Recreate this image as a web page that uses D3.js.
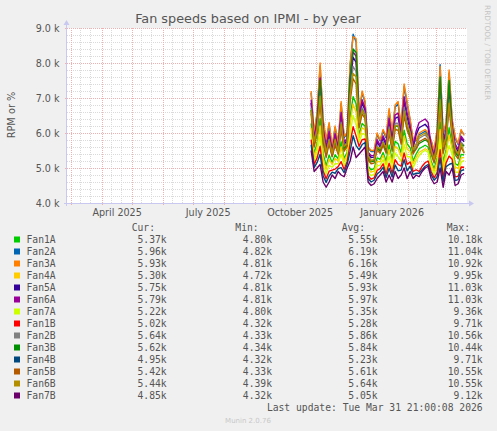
<!DOCTYPE html>
<html>
<head>
<meta charset="utf-8">
<script src="https://d3js.org/d3.v7.min.js"></script>
<style>
  body { margin: 0; background: #f0f0f0; }
  svg { display: block; }
  text { font-family: "DejaVu Sans", sans-serif; fill: #555; }
  .mono { font-family: "DejaVu Sans Mono", monospace; font-size: 9.7px; fill: #555; }
</style>
</head>
<body>
<svg id="chart" width="497" height="431"></svg>
<script>
// first sample and sampling step (days)
var firstDay = new Date(2025, 9, 27);
var stepDays = 3;

var fanNames = ["Fan1A","Fan2A","Fan3A","Fan4A","Fan5A","Fan6A","Fan7A",
                "Fan1B","Fan2B","Fan3B","Fan4B","Fan5B","Fan6B","Fan7B"];
var fanColors = ["#00cc00","#0066b3","#ff8000","#ffcc00","#330099","#990099","#ccff00",
                 "#ff0000","#808080","#008f00","#00487d","#b35a00","#b38f00","#6b006b"];

// RPM in thousands
var fan1A = [6.27,5.40,5.72,6.41,5.41,5.06,5.37,5.16,5.38,5.26,5.75,5.27,5.45,6.46,7.04,6.83,5.94,6.27,6.19,5.05,4.95,4.98,5.29,5.25,5.44,5.19,5.66,5.23,5.76,5.69,5.43,6.08,5.69,5.58,5.20,5.40,5.55,5.60,5.65,5.60,5.20,4.98,5.28,6.31,5.15,5.53,6.15,5.63,5.13,5.07,5.39,5.37];
var fan2A = [7.15,5.97,6.55,7.91,6.35,5.76,6.25,5.58,6.16,5.68,6.84,5.87,5.97,7.92,8.82,8.60,6.56,7.15,6.86,5.57,5.47,5.47,5.96,5.77,6.06,5.86,6.64,5.96,6.74,6.83,6.16,7.33,6.83,6.36,5.77,5.78,5.95,6.00,6.05,5.95,5.77,5.47,6.06,7.95,5.95,6.26,7.71,6.36,5.86,5.67,6.06,5.96];
var fan3A = [7.20,6.00,6.60,8.00,6.40,5.80,6.30,5.60,6.20,5.70,6.90,5.90,6.00,8.00,8.75,8.70,6.60,7.20,6.90,5.60,5.50,5.50,6.00,5.80,6.10,5.90,6.70,6.00,6.80,6.90,6.20,7.40,6.90,6.40,5.80,5.80,6.00,6.05,6.10,6.00,5.80,5.50,6.10,7.90,6.00,6.30,7.80,6.40,5.90,5.70,6.10,5.93];
var fan4A = [6.15,5.32,5.61,6.20,5.28,4.96,5.25,5.10,5.27,5.20,5.60,5.19,5.38,6.26,6.82,6.59,5.86,6.15,6.09,4.98,4.88,4.91,5.19,5.18,5.36,5.09,5.52,5.13,5.62,5.54,5.33,5.91,5.54,5.47,5.12,5.30,5.45,5.50,5.55,5.50,5.12,4.91,5.17,6.10,5.04,5.43,5.94,5.53,5.03,4.99,5.29,5.30];
var fan5A = [6.86,5.78,6.28,7.42,6.04,5.53,5.96,5.44,5.90,5.54,6.48,5.67,5.80,7.44,8.16,8.02,6.36,6.86,6.64,5.40,5.30,5.31,5.74,5.60,5.86,5.64,6.32,5.72,6.42,6.46,5.92,6.92,6.46,6.10,5.58,5.95,6.15,6.20,6.25,6.15,5.58,5.31,5.80,7.32,5.69,6.02,7.20,6.12,5.62,5.47,5.84,5.75];
var fan6A = [6.95,5.84,6.36,7.57,6.13,5.60,6.05,5.48,5.98,5.58,6.59,5.73,5.85,7.58,8.32,8.19,6.42,6.95,6.71,5.45,5.35,5.36,5.81,5.65,5.92,5.71,6.42,5.79,6.52,6.57,5.99,7.04,6.57,6.18,5.64,6.05,6.30,6.35,6.40,6.30,5.64,5.36,5.88,7.47,5.77,6.09,7.35,6.19,5.69,5.53,5.91,5.79];
var fan7A = [5.98,5.21,5.45,5.91,5.10,4.83,5.08,5.02,5.12,5.12,5.39,5.07,5.28,5.98,6.50,6.25,5.74,5.98,5.96,4.88,4.78,4.82,5.06,5.08,5.24,4.96,5.33,4.99,5.43,5.32,5.19,5.67,5.32,5.32,5.01,5.20,5.35,5.45,5.50,5.45,5.01,4.82,5.02,5.81,4.88,5.29,5.64,5.39,4.89,4.87,5.16,5.22];
var fan1B = [5.81,5.10,5.29,5.62,4.92,4.69,4.91,4.94,4.97,5.04,5.18,4.96,5.18,5.70,6.18,5.91,5.62,5.81,5.83,4.78,4.68,4.72,4.93,4.98,5.12,4.83,5.14,4.85,5.24,5.10,5.05,5.43,5.10,5.17,4.90,4.95,4.90,5.05,5.15,5.20,4.90,4.72,4.87,5.52,4.73,5.15,5.34,5.25,4.75,4.76,5.03,5.02];
var fan2B = [6.72,5.69,6.15,7.19,5.90,5.42,5.82,5.38,5.78,5.48,6.31,5.58,5.72,7.22,7.90,7.75,6.26,6.72,6.54,5.32,5.22,5.23,5.64,5.52,5.76,5.54,6.17,5.61,6.27,6.28,5.81,6.73,6.28,5.98,5.49,5.65,5.85,5.90,5.95,5.85,5.49,5.23,5.68,7.09,5.57,5.91,6.96,6.01,5.51,5.38,5.74,5.64];
var fan3B = [6.66,5.65,6.09,7.50,5.82,5.37,5.76,5.34,5.72,5.44,6.23,5.53,5.68,7.60,8.40,8.30,6.22,6.66,6.48,5.28,5.18,5.20,5.58,5.48,5.72,5.48,6.09,5.55,6.19,6.20,5.75,6.63,6.20,5.92,5.45,5.55,5.70,5.75,5.80,5.75,5.45,5.20,5.62,7.60,5.50,5.85,7.50,5.95,5.45,5.33,5.68,5.62];
var fan4B = [5.67,5.01,5.16,5.39,4.78,4.59,4.77,4.88,4.85,4.98,5.01,4.87,5.10,5.48,5.92,5.64,5.52,5.67,5.73,4.70,4.60,4.65,4.83,4.90,5.02,4.73,4.99,4.74,5.09,4.92,4.94,5.24,4.92,5.05,4.81,4.85,4.85,4.95,5.05,5.10,4.81,4.65,4.75,5.29,4.61,5.04,5.10,5.14,4.64,4.67,4.93,4.95];
var fan5B = [6.55,5.60,6.00,6.85,5.75,5.30,5.70,5.32,5.65,5.40,6.10,5.48,5.62,6.90,7.55,7.40,6.15,6.55,6.40,5.22,5.12,5.14,5.52,5.42,5.65,5.42,6.00,5.48,6.10,6.08,5.68,6.50,6.08,5.85,5.40,5.55,5.75,5.80,5.85,5.78,5.40,5.14,5.55,6.80,5.42,5.78,6.70,5.88,5.38,5.26,5.60,5.42];
var fan6B = [6.65,5.75,6.10,7.05,5.95,5.45,5.78,5.42,5.82,5.45,6.25,5.62,5.68,7.10,7.70,7.60,6.30,6.65,6.50,5.35,5.20,5.25,5.60,5.55,5.72,5.58,6.10,5.65,6.20,6.22,5.85,6.62,6.22,6.02,5.52,5.70,5.90,5.95,6.00,5.90,5.52,5.25,5.65,6.95,5.60,5.88,6.85,6.05,5.55,5.40,5.70,5.44];
var fan7B = [5.50,4.90,5.00,5.10,4.60,4.45,4.60,4.80,4.70,4.90,4.80,4.75,5.00,5.20,5.60,5.30,5.40,5.50,5.60,4.60,4.50,4.55,4.70,4.80,4.90,4.60,4.80,4.60,4.90,4.70,4.80,5.00,4.70,4.90,4.70,4.80,4.75,4.90,5.00,5.05,4.70,4.55,4.60,5.00,4.45,4.90,4.80,5.00,4.50,4.55,4.80,4.85];

// legend figures (from the reference)
var curVals = ["5.37k","5.96k","5.93k","5.30k","5.75k","5.79k","5.22k","5.02k","5.64k","5.62k","4.95k","5.42k","5.44k","4.85k"];
var minVals = ["4.80k","4.82k","4.81k","4.72k","4.81k","4.81k","4.80k","4.32k","4.33k","4.34k","4.32k","4.33k","4.39k","4.32k"];
var avgVals = ["5.55k","6.19k","6.16k","5.49k","5.93k","5.97k","5.35k","5.28k","5.86k","5.84k","5.23k","5.61k","5.64k","5.05k"];
var maxVals = ["10.18k","11.04k","10.92k","9.95k","11.03k","11.03k","9.36k","9.71k","10.56k","10.44k","9.71k","10.55k","10.55k","9.12k"];

var yTicks = [4, 5, 6, 7, 8, 9];
var xLabels = [[new Date(2025,3,16),"April 2025"],[new Date(2025,6,16),"July 2025"],
               [new Date(2025,9,16),"October 2025"],[new Date(2026,0,16),"January 2026"]];

var series = [fan1A,fan2A,fan3A,fan4A,fan5A,fan6A,fan7A,fan1B,fan2B,fan3B,fan4B,fan5B,fan6B,fan7B];

var svg = d3.select("#chart");
var L = 67, R = 467, T = 28, B = 203;
var tEnd = new Date(2026, 2, 31, 21, 0);
var tStart = d3.timeDay.offset(tEnd, -400);
var x = d3.scaleTime().domain([tStart, tEnd]).range([L, R]);
var y = d3.scaleLinear().domain([4, 9]).range([B, T]);

svg.append("rect").attr("x", L).attr("y", T).attr("width", R - L).attr("height", B - T).attr("fill", "#fff");

var grid = svg.append("g").attr("shape-rendering", "crispEdges");
// minor horizontal every 0.2k
d3.range(4, 9.01, 0.2).forEach(function(v) {
  grid.append("line").attr("x1", L).attr("x2", R).attr("y1", Math.round(y(v)) + 0.5).attr("y2", Math.round(y(v)) + 0.5)
    .attr("stroke", "#dadada").attr("stroke-dasharray", "1,1");
});
// minor vertical at 10th and 20th
d3.timeMonth.range(d3.timeMonth.floor(tStart), tEnd).forEach(function(m) {
  [10, 20].forEach(function(d) {
    var t = new Date(m.getFullYear(), m.getMonth(), d);
    if (t > tStart && t < tEnd)
      grid.append("line").attr("x1", Math.round(x(t)) + 0.5).attr("x2", Math.round(x(t)) + 0.5).attr("y1", T).attr("y2", B)
        .attr("stroke", "#dadada").attr("stroke-dasharray", "1,1");
  });
});
// major
yTicks.forEach(function(v) {
  grid.append("line").attr("x1", L - 2).attr("x2", R).attr("y1", Math.round(y(v)) + 0.5).attr("y2", Math.round(y(v)) + 0.5)
    .attr("stroke", "#eeb0b0").attr("stroke-dasharray", "1,1");
});
x.ticks(d3.timeMonth.every(1)).forEach(function(t) {
  grid.append("line").attr("x1", Math.round(x(t)) + 0.5).attr("x2", Math.round(x(t)) + 0.5).attr("y1", T).attr("y2", B + 2)
    .attr("stroke", "#eeb0b0").attr("stroke-dasharray", "1,1");
});

// data lines
var line = d3.line()
  .x(function(d, i) { return x(d3.timeDay.offset(firstDay, i * stepDays)); })
  .y(function(d) { return y(d); });
series.forEach(function(s, k) {
  svg.append("path").datum(s).attr("d", line).attr("fill", "none")
    .attr("stroke", fanColors[k]).attr("stroke-width", 1.4).attr("stroke-linejoin", "round");
});

// axes
svg.append("line").attr("x1", L - 0.5).attr("x2", L - 0.5).attr("y1", B + 3).attr("y2", T - 4).attr("stroke", "#c8c8f0");
svg.append("line").attr("x1", L - 3).attr("x2", R + 2).attr("y1", B + 0.5).attr("y2", B + 0.5).attr("stroke", "#c8c8f0");
svg.append("path").attr("d", "M" + (L - 3.5) + "," + (T - 3) + "L" + (L - 0.5) + "," + (T - 8) + "L" + (L + 2.5) + "," + (T - 3) + "Z").attr("fill", "#c8c8f0");
svg.append("path").attr("d", "M" + (R + 2) + "," + (B - 2.5) + "L" + (R + 7) + "," + (B + 0.5) + "L" + (R + 2) + "," + (B + 3.5) + "Z").attr("fill", "#c8c8f0");

// y tick labels
var fmt = d3.format(".1f");
svg.append("g").selectAll("text").data(yTicks).enter().append("text")
  .attr("x", 59.5).attr("y", function(d) { return y(d) + 3.5; })
  .attr("text-anchor", "end").attr("font-size", "9.6px")
  .text(function(d) { return fmt(d) + " k"; });

// x labels
svg.append("g").selectAll("text").data(xLabels).enter().append("text")
  .attr("x", function(d) { return x(d[0]); }).attr("y", 215.5)
  .attr("text-anchor", "middle").attr("font-size", "9.6px")
  .text(function(d) { return d[1]; });

// titles
svg.append("text").attr("x", 248).attr("y", 23.3).attr("text-anchor", "middle")
  .attr("font-size", "12.8px").text("Fan speeds based on IPMI - by year");
svg.append("text").attr("transform", "translate(14.5,115) rotate(-90)").attr("text-anchor", "middle")
  .attr("font-size", "9.8px").text("RPM or %");
svg.append("text").attr("transform", "translate(485,5) rotate(90)").attr("text-anchor", "start")
  .attr("font-size", "7.4px").style("fill", "#c4c4c4").text("RRDTOOL / TOBI OETIKER");

// legend
var lg = svg.append("g");
[["Cur:",155],["Min:",258.7],["Avg:",365],["Max:",470]].forEach(function(h) {
  lg.append("text").attr("class", "mono").attr("x", h[1]).attr("y", 231).attr("text-anchor", "end").text(h[0]);
});
fanNames.forEach(function(n, k) {
  var yy = 243 + k * 12;
  lg.append("rect").attr("x", 14).attr("y", yy - 6.5).attr("width", 6).attr("height", 6).attr("fill", fanColors[k]);
  lg.append("text").attr("class", "mono").attr("x", 26.5).attr("y", yy).text(n);
  lg.append("text").attr("class", "mono").attr("x", 166.7).attr("y", yy).attr("text-anchor", "end").text(curVals[k]);
  lg.append("text").attr("class", "mono").attr("x", 272).attr("y", yy).attr("text-anchor", "end").text(minVals[k]);
  lg.append("text").attr("class", "mono").attr("x", 377.5).attr("y", yy).attr("text-anchor", "end").text(avgVals[k]);
  lg.append("text").attr("class", "mono").attr("x", 482.7).attr("y", yy).attr("text-anchor", "end").text(maxVals[k]);
});
lg.append("text").attr("class", "mono").attr("x", 482.7).attr("y", 411).attr("text-anchor", "end")
  .text("Last update: Tue Mar 31 21:00:08 2026");
svg.append("text").attr("x", 248).attr("y", 422.5).attr("text-anchor", "middle")
  .attr("font-size", "7px").style("fill", "#c8c8c8").text("Munin 2.0.76");
</script>
</body>
</html>
